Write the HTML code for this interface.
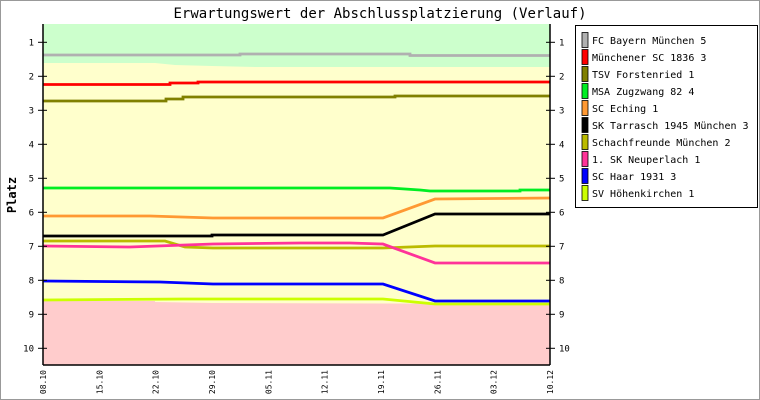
<!DOCTYPE html><html><head><meta charset="utf-8"><style>body{margin:0;background:#fff}svg{display:block;font-family:"DejaVu Sans Mono","Liberation Mono",monospace}</style></head><body>
<svg width="760" height="400" viewBox="0 0 760 400">
<rect x="0.5" y="0.5" width="759" height="399" fill="#fff" stroke="#999"/>
<text x="380" y="18" text-anchor="middle" font-size="14" fill="#000">Erwartungswert der Abschlussplatzierung (Verlauf)</text>
<rect x="43" y="24" width="507" height="341" fill="#ffffcc"/>
<polygon points="43,24 550,24 550,67 255,67 212,66 175,65 155,63 43,63" fill="#ccffcc"/>
<polygon points="43,301 155,301 155,302 212,303 550,304 550,365 43,365" fill="#ffcccc"/>
<g fill="none" stroke-width="2.8">
<polyline stroke="#b0b0b0" points="43,55 240,55 240,54 410,54 410,55.5 550,55.5"/>
<polyline stroke="#ff0000" points="43,84.5 170,84.5 170,83 198,83 198,82 550,82"/>
<polyline stroke="#808000" points="43,101 166,101 166,99 183,99 183,97 395,97 395,96 550,96"/>
<polyline stroke="#00ee22" points="43,188 390,188 405,189 420,190 430,191 520,191 520,190 550,190"/>
<polyline stroke="#ff9933" points="43,216 150,216 213,218 383,218 435,199 550,198"/>
<polyline stroke="#000000" points="43,236 212,236 212,235 383,235 435,214 550,214"/>
<polyline stroke="#bbbb00" points="43,241 165,241 185,247 213,248 383,248 435,246 550,246"/>
<polyline stroke="#ff3399" points="43,246 130,247 213,244 300,243 350,243 383,244 435,263 550,263"/>
<polyline stroke="#0000ff" points="43,281 160,282 213,284 383,284 435,301 550,301"/>
<polyline stroke="#ccff00" points="43,300 183,299 383,299 435,304 550,304"/>
</g>
<g stroke="#000" stroke-width="1.5"><line x1="43" y1="24" x2="43" y2="365"/><line x1="550" y1="24" x2="550" y2="365"/><line x1="43" y1="365" x2="550" y2="365"/></g>
<g stroke="#000" stroke-width="1">
<line x1="38" y1="42.3" x2="47" y2="42.3"/><line x1="38" y1="76.3" x2="47" y2="76.3"/><line x1="38" y1="110.3" x2="47" y2="110.3"/><line x1="38" y1="144.3" x2="47" y2="144.3"/><line x1="38" y1="178.3" x2="47" y2="178.3"/><line x1="38" y1="212.3" x2="47" y2="212.3"/><line x1="38" y1="246.3" x2="47" y2="246.3"/><line x1="38" y1="280.3" x2="47" y2="280.3"/><line x1="38" y1="314.3" x2="47" y2="314.3"/><line x1="38" y1="348.3" x2="47" y2="348.3"/>
<line x1="546" y1="42.3" x2="555" y2="42.3"/><line x1="546" y1="76.3" x2="555" y2="76.3"/><line x1="546" y1="110.3" x2="555" y2="110.3"/><line x1="546" y1="144.3" x2="555" y2="144.3"/><line x1="546" y1="178.3" x2="555" y2="178.3"/><line x1="546" y1="212.3" x2="555" y2="212.3"/><line x1="546" y1="246.3" x2="555" y2="246.3"/><line x1="546" y1="280.3" x2="555" y2="280.3"/><line x1="546" y1="314.3" x2="555" y2="314.3"/><line x1="546" y1="348.3" x2="555" y2="348.3"/>
</g>
<g font-size="9" fill="#000" text-anchor="end">
<text x="34" y="45.5">1</text><text x="34" y="79.5">2</text><text x="34" y="113.5">3</text><text x="34" y="147.5">4</text><text x="34" y="181.5">5</text><text x="34" y="215.5">6</text><text x="34" y="249.5">7</text><text x="34" y="283.5">8</text><text x="34" y="317.5">9</text><text x="34" y="351.5">10</text>
</g>
<g font-size="9" fill="#000" text-anchor="start">
<text x="559" y="45.5">1</text><text x="559" y="79.5">2</text><text x="559" y="113.5">3</text><text x="559" y="147.5">4</text><text x="559" y="181.5">5</text><text x="559" y="215.5">6</text><text x="559" y="249.5">7</text><text x="559" y="283.5">8</text><text x="559" y="317.5">9</text><text x="559" y="351.5">10</text>
</g>
<text transform="translate(16,195) rotate(-90)" text-anchor="middle" font-size="12" font-weight="bold">Platz</text>
<g font-size="8" fill="#000" text-anchor="end">
<text transform="translate(46,370) rotate(-90)">08.10</text><text transform="translate(102.3,370) rotate(-90)">15.10</text><text transform="translate(158.7,370) rotate(-90)">22.10</text><text transform="translate(215,370) rotate(-90)">29.10</text><text transform="translate(271.3,370) rotate(-90)">05.11</text><text transform="translate(327.7,370) rotate(-90)">12.11</text><text transform="translate(384,370) rotate(-90)">19.11</text><text transform="translate(440.3,370) rotate(-90)">26.11</text><text transform="translate(496.7,370) rotate(-90)">03.12</text><text transform="translate(553,370) rotate(-90)">10.12</text>
</g>
<rect x="575.5" y="25.5" width="182" height="182" fill="#fff" stroke="#000"/>
<g stroke="#000" stroke-width="0.8">
<rect x="582" y="32.5" width="6" height="15" fill="#b0b0b0"/><rect x="582" y="49.5" width="6" height="15" fill="#ff0000"/><rect x="582" y="66.5" width="6" height="15" fill="#808000"/><rect x="582" y="83.5" width="6" height="15" fill="#00ee22"/><rect x="582" y="100.5" width="6" height="15" fill="#ff9933"/><rect x="582" y="117.5" width="6" height="15" fill="#000"/><rect x="582" y="134.5" width="6" height="15" fill="#bbbb00"/><rect x="582" y="151.5" width="6" height="15" fill="#ff3399"/><rect x="582" y="168.5" width="6" height="15" fill="#0000ff"/><rect x="582" y="185.5" width="6" height="15" fill="#ccff00"/>
</g>
<g font-size="10" fill="#000">
<text x="592" y="44">FC Bayern München 5</text><text x="592" y="61">Münchener SC 1836 3</text><text x="592" y="78">TSV Forstenried 1</text><text x="592" y="95">MSA Zugzwang 82 4</text><text x="592" y="112">SC Eching 1</text><text x="592" y="129">SK Tarrasch 1945 München 3</text><text x="592" y="146">Schachfreunde München 2</text><text x="592" y="163">1. SK Neuperlach 1</text><text x="592" y="180">SC Haar 1931 3</text><text x="592" y="197">SV Höhenkirchen 1</text>
</g>
</svg></body></html>
